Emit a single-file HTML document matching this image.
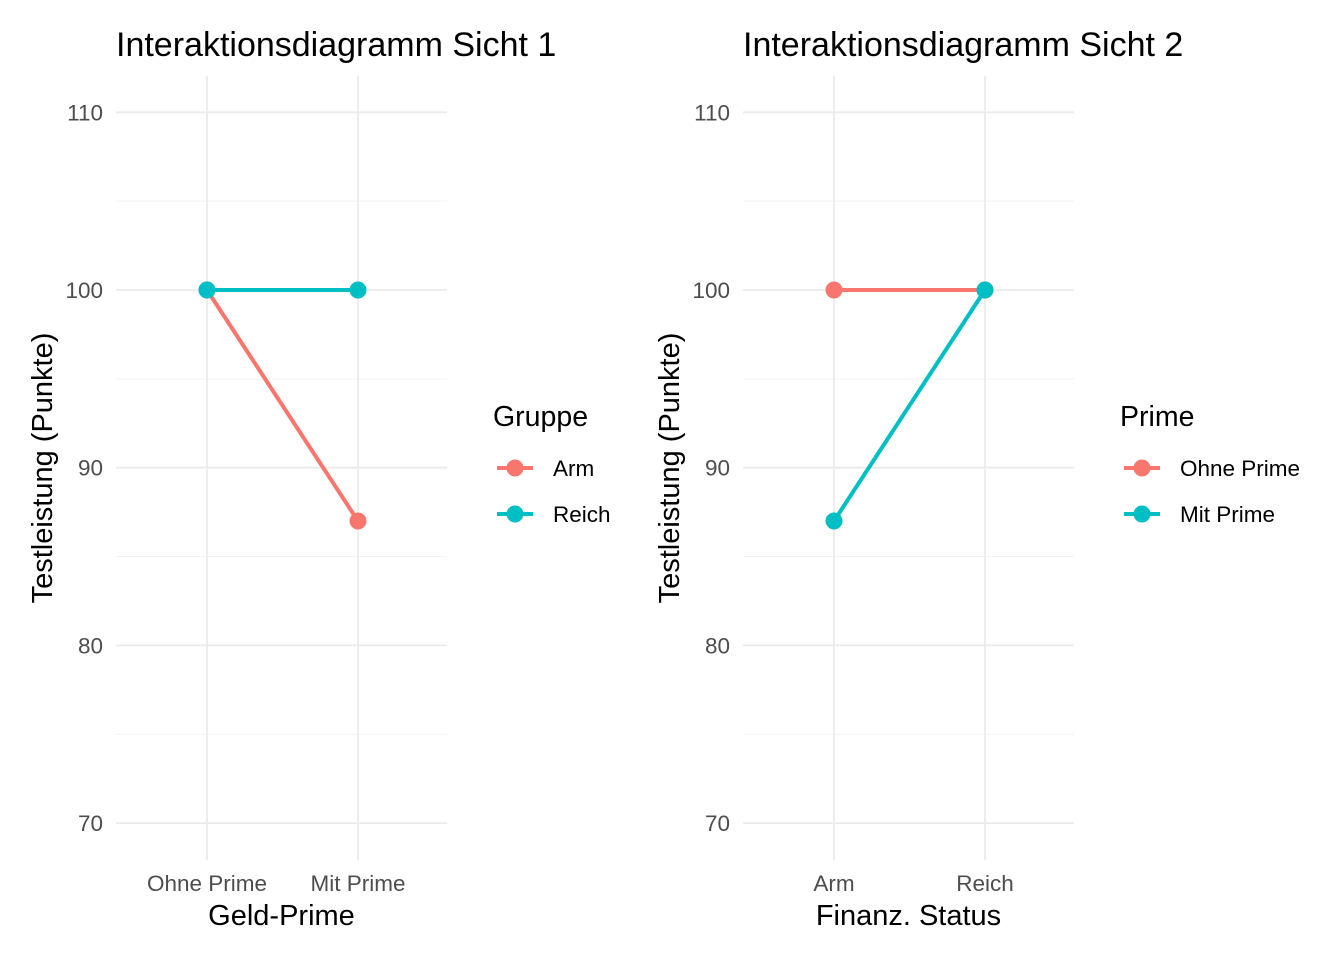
<!DOCTYPE html>
<html><head><meta charset="utf-8"><style>
body{margin:0;background:#fff;}
svg text{font-family:"Liberation Sans",Arial,sans-serif;}
</style></head><body>
<svg id="c" width="1344" height="960" xmlns="http://www.w3.org/2000/svg"></svg>
<script>
const ticks = [70, 80, 90, 100, 110];
const minorTicks = [75, 85, 95, 105];
const cats1 = ["Ohne Prime", "Mit Prime"];
const groups1 = ["Arm", "Reich"];
const armVals1 = [100, 87];
const reichVals1 = [100, 100];
const cats2 = ["Arm", "Reich"];
const groups2 = ["Ohne Prime", "Mit Prime"];
const ohneVals2 = [100, 100];
const mitVals2 = [87, 100];
const colors = ["#F8766D", "#00BFC4"];

const svg = document.getElementById('c');
const NS = "http://www.w3.org/2000/svg";
function el(tag, attrs, parent){const e=document.createElementNS(NS,tag);for(const k in attrs)e.setAttribute(k,attrs[k]);(parent||svg).appendChild(e);return e;}
function yScale(v){return 290 + (100 - v) * 17.77;}

function panel(ox, title, xTitle, cats, groups, series, legTitle, key){
  const g = el('g', {});
  
  
  const x0 = ox, x1 = ox + 331;
  const xScale = i => ox + 91 + i * 151;
  minorTicks.forEach(v=>{const l=el('line',{x1:x0,x2:x1,y1:yScale(v),y2:yScale(v),stroke:'#f2f2f2','stroke-width':1},g);
    });
  ticks.forEach(v=>{const l=el('line',{x1:x0,x2:x1,y1:yScale(v),y2:yScale(v),stroke:'#ebebeb','stroke-width':1.8},g);
    
    const t=el('text',{x:x0-13,y:yScale(v)+8,'text-anchor':'end','font-size':22.5,fill:'#4d4d4d'},g);t.textContent=v;
    });
  cats.forEach((c,i)=>{const l=el('line',{x1:xScale(i),x2:xScale(i),y1:76,y2:860,stroke:'#ebebeb','stroke-width':1.8},g);
    
    const t=el('text',{x:xScale(i),y:891,'text-anchor':'middle','font-size':22.5,fill:'#4d4d4d'},g);t.textContent=c;
    });
  series.forEach((vals,s)=>{
    const pts = vals.map((v,i)=>xScale(i)+','+yScale(v)).join(' ');
    const pl=el('polyline',{points:pts,fill:'none',stroke:colors[s],'stroke-width':4},g);
    
    
    vals.forEach((v,i)=>{const c=el('circle',{cx:xScale(i),cy:yScale(v),r:8.5,fill:colors[s]},g);
      });
  });
  const tt=el('text',{x:x0,y:56,'font-size':34,fill:'#000'},g);tt.textContent=title;
  
  const xt=el('text',{x:(x0+x1)/2,y:925,'text-anchor':'middle','font-size':29,fill:'#000'},g);xt.textContent=xTitle;
  
  const yt=el('text',{x:0,y:0,'text-anchor':'middle','font-size':29,fill:'#000',transform:`translate(${x0-64},468) rotate(-90)`},g);yt.textContent='Testleistung (Punkte)';
  
  const lx = x1 + 46;
  const lt=el('text',{x:lx,y:426,'font-size':28.5,fill:'#000'},g);lt.textContent=legTitle;
  
  groups.forEach((gr,s)=>{const cy=468+s*46;
    const lg=el('g',{},g);
    el('line',{x1:lx+4,x2:lx+40,y1:cy,y2:cy,stroke:colors[s],'stroke-width':4},lg);
    el('circle',{cx:lx+22,cy:cy,r:8.5,fill:colors[s]},lg);
    const t=el('text',{x:lx+60,y:cy+8,'font-size':22.5,fill:'#000'},lg);t.textContent=gr;});
}
panel(116,'Interaktionsdiagramm Sicht 1','Geld-Prime',cats1,groups1,[armVals1,reichVals1],'Gruppe','view1');
panel(743,'Interaktionsdiagramm Sicht 2','Finanz. Status',cats2,groups2,[ohneVals2,mitVals2],'Prime','view2');
</script>
</body></html>
